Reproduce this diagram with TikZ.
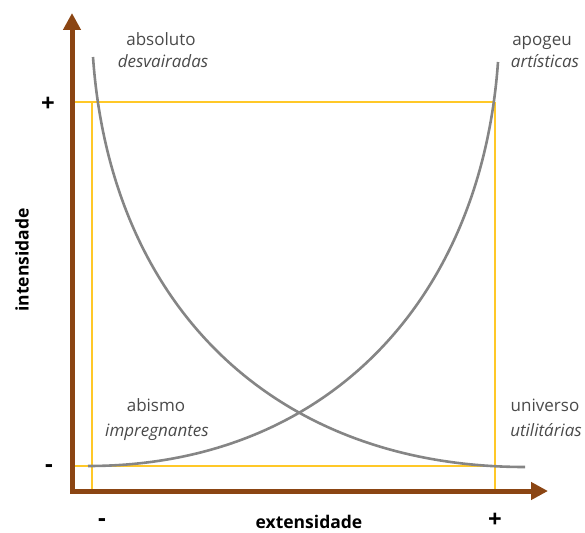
\documentclass[tikz,border=0pt]{standalone}
\usepackage{fontspec}
\setmainfont{Open Sans}
\usetikzlibrary{arrows.meta}
\definecolor{axisbrown}{HTML}{8B4513}
\definecolor{guideyellow}{HTML}{FFC828}
\definecolor{curvegray}{HTML}{858585}
\definecolor{labelgray}{HTML}{4A4A4A}
\tikzset{
  axisline/.style={draw=axisbrown,line width=5pt,{Triangle[length=17pt,width=17pt]}-{Triangle[length=17pt,width=17pt]}},
  guide/.style={draw=guideyellow,line width=1.3pt},
  curveline/.style={draw=curvegray,line width=2.6pt},
  lbl/.style={text=labelgray,font=\fontsize{17}{19}\selectfont,inner sep=0pt,anchor=base},
  lblit/.style={lbl,font=\fontsize{17}{19}\selectfont\itshape},
  tick/.style={font=\bfseries\fontsize{24}{26}\selectfont,inner sep=0pt,anchor=center},
  axlabel/.style={font=\bfseries\fontsize{17.5}{19}\selectfont,inner sep=0pt,anchor=base}
}
\begin{document}
\begin{tikzpicture}[x=1pt,y=-1pt]
\useasboundingbox (0,0) rectangle (585,532);
% corners of the guide frame
\coordinate (TL) at (72,102);
\coordinate (TR) at (495,102);
\coordinate (BL) at (72,466);
\coordinate (BR) at (495,466);
\coordinate (LV) at (92,102);
\coordinate (LVb) at (92,491);
\coordinate (RVb) at (495,491);
% guide lines
\draw[guide] (TL) -- (TR);
\draw[guide] (BL) -- (BR);
\draw[guide] (LV) -- (LVb);
\draw[guide] (TR) -- (RVb);
% curves
\coordinate (d0) at (93,57);
\coordinate (d3) at (525,467);
\coordinate (i0) at (88,466);
\coordinate (i3) at (498,62);
\draw[curveline] (d0) .. controls (110.5,307) and (275,467) .. (d3);
\draw[curveline] (i0) .. controls (325,466) and (481,302) .. (i3);
% axes
\coordinate (ytop) at (72,13);
\coordinate (origin) at (72,491);
\coordinate (xend) at (548,491);
\draw[axisline] (ytop) -- (origin) -- (xend);
% labels
\node[lbl] (absoluto) at (161,46) {absoluto};
\node[lblit] (desvairadas) at (163,68) {desvairadas};
\node[lbl] (apogeu) at (542,46) {apogeu};
\node[lblit] (artisticas) at (545,68) {artísticas};
\node[lbl] (abismo) at (156,411) {abismo};
\node[lblit] (impregnantes) at (157,436) {impregnantes};
\node[lbl] (universo) at (545,411) {universo};
\node[lblit] (utilitarias) at (546,436) {utilitárias};
% ticks
\node[tick] (yplus) at (48,104) {+};
\node[tick] (yminus) at (49,469) {-};
\node[tick] (xminus) at (102,523) {-};
\node[tick] (xplus) at (495,520) {+};
\node[axlabel] (xlab) at (309,528) {extensidade};
\node[axlabel,rotate=90,anchor=center] (ylab) at (22,260) {intensidade};
\end{tikzpicture}
\end{document}
